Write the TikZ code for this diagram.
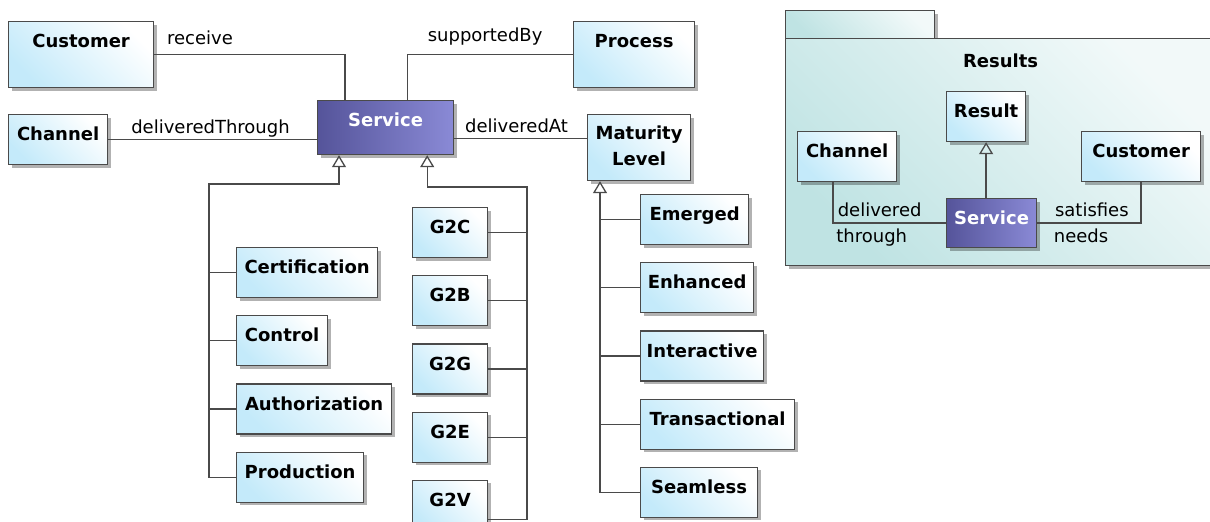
\documentclass[tikz,border=0pt]{standalone}
\usepackage{fontspec}
\setmainfont{DejaVu Sans}
\usetikzlibrary{arrows.meta, positioning, shadows}

\definecolor{clsblue}{HTML}{C4EAFA}
\definecolor{srvdark}{HTML}{55549A}
\definecolor{srvlight}{HTML}{8A8AD6}
\definecolor{pkgteal}{HTML}{BFE3E3}
\definecolor{edgegray}{HTML}{4A4A4A}

\begin{document}
\begin{tikzpicture}[
    x=1pt,
    y=-1pt,
    font=\fontsize{18}{26}\selectfont,
    cls/.style={draw=edgegray, line width=1.2pt, anchor=north west, inner sep=0pt,
        top color=clsblue, bottom color=white, shading angle=135,
        drop shadow={shadow xshift=3pt, shadow yshift=-3pt, fill=black, opacity=0.3},
        font=\fontsize{18}{26}\selectfont\bfseries,
        text height=26pt, text depth=24pt},
    srv/.style={cls, left color=srvdark, right color=srvlight, text=white},
    pkg/.style={draw=edgegray, line width=1.2pt, anchor=north west, inner sep=0pt,
        top color=pkgteal, bottom color=pkgteal!20!white, shading angle=135,
        drop shadow={shadow xshift=3pt, shadow yshift=-3pt, fill=black, opacity=0.3},
        font=\fontsize{18}{26}\selectfont\bfseries},
    lbl/.style={inner sep=0pt, text height=13pt, text depth=4pt},
    conn/.style={draw=edgegray, line width=1.3pt},
    gen/.style={conn, -{Triangle[open, length=12pt, width=14pt]}},
]

    \useasboundingbox (0,0) rectangle (1210,522);

    % package
    \node[pkg, minimum width=149pt, minimum height=28pt] (tab) at (785,10) {};
    \node[pkg, minimum width=430pt, text height=29pt, text depth=198pt] (Results) at (785,38) {Results};

    \node[cls, minimum width=79pt]                  (Result)    at (946,91)   {Result};
    \node[cls, minimum width=99pt]                  (Channel2)  at (797,131)  {Channel};
    \node[cls, minimum width=119pt]                 (Customer2) at (1081,131) {Customer};
    \node[srv, minimum width=90pt, text depth=23pt] (Service2)  at (946,198)  {Service};

    % main classes
    \node[cls, minimum width=145pt, text depth=40pt] (Customer) at (8,21)    {Customer};
    \node[cls, minimum width=99pt]                   (Channel)  at (8,114)   {Channel};
    \node[srv, minimum width=136pt, text depth=28pt] (Service)  at (317,100) {Service};
    \node[cls, minimum width=121pt, text depth=40pt] (Process)  at (573,21)  {Process};
    \node[cls, minimum width=103pt, text height=51pt, text depth=15pt, align=center] (Maturity) at (587,114) {Maturity\\Level};

    \node[cls, minimum width=141pt] (Certification) at (236,247) {Certification};
    \node[cls, minimum width=91pt,  below=17pt of Certification.south west, anchor=north west] (Control)       {Control};
    \node[cls, minimum width=155pt, below=17pt of Control.south west,       anchor=north west] (Authorization) {Authorization};
    \node[cls, minimum width=127pt, below=17pt of Authorization.south west, anchor=north west] (Production)    {Production};

    \node[cls, minimum width=75pt] (G2C) at (412,207) {G2C};
    \node[cls, minimum width=75pt, below=17pt of G2C.south west, anchor=north west] (G2B) {G2B};
    \node[cls, minimum width=75pt, below=17pt of G2B.south west, anchor=north west] (G2G) {G2G};
    \node[cls, minimum width=75pt, below=17pt of G2G.south west, anchor=north west] (G2E) {G2E};
    \node[cls, minimum width=75pt, below=17pt of G2E.south west, anchor=north west] (G2V) {G2V};

    \node[cls, minimum width=108pt] (Emerged) at (640,194) {Emerged};
    \node[cls, minimum width=113pt, below=17pt of Emerged.south west,       anchor=north west] (Enhanced)      {Enhanced};
    \node[cls, minimum width=123pt, below=17pt of Enhanced.south west,      anchor=north west] (Interactive)   {Interactive};
    \node[cls, minimum width=154pt, below=17pt of Interactive.south west,   anchor=north west] (Transactional) {Transactional};
    \node[cls, minimum width=117pt, below=17pt of Transactional.south west, anchor=north west] (Seamless)      {Seamless};

    % associations
    \draw[conn] (Customer.east) -| node[lbl, pos=0.12, above=5pt] {receive} ([xshift=28pt]Service.north west);
    \draw[conn] ([xshift=-47pt]Service.north east) |- node[lbl, pos=0.735, above=8pt] {supportedBy} (Process.west);
    \draw[conn] (Channel.east) -- node[lbl, pos=0.49, above=1pt] {deliveredThrough} (Channel.east -| Service.west);
    \draw[conn] ([yshift=-11pt]Service.east) -- node[lbl, pos=0.47, above=1pt] {deliveredAt} ([yshift=-11pt]Service.east -| Maturity.west);

    % generalizations
    \coordinate (ltrunk) at (209,184);
    \draw[gen] (Production.west) -| (ltrunk) -| ([xshift=22pt]Service.south west);
    \foreach \c in {Certification, Control, Authorization}
        \draw[conn] (\c.west) -- (\c.west -| ltrunk);

    \coordinate (gtrunk) at (527,187);
    \draw[gen] ([yshift=-14pt]G2V.east) -| (gtrunk) -| ([xshift=-27pt]Service.south east);
    \foreach \g in {G2C, G2B, G2G, G2E}
        \draw[conn] (\g.east) -- (\g.east -| gtrunk);

    \coordinate (mtrunk) at ([xshift=13pt]Maturity.south west);
    \draw[gen] (Seamless.west) -| (mtrunk);
    \foreach \m in {Emerged, Enhanced, Interactive, Transactional}
        \draw[conn] (\m.west) -- (\m.west -| mtrunk);

    % inside the package
    \draw[gen] (Service2.north -| Result.south) -- (Result.south);
    \draw[conn] ([xshift=-14pt]Channel2.south) |-
        node[lbl, pos=0.706, above=2pt] {delivered}
        node[lbl, pos=0.671, below=6pt] {through} (Service2.west);
    \draw[conn] (Customer2.south) |-
        node[lbl, pos=0.737, above=2pt] {satisfies}
        node[lbl, pos=0.789, below=6pt] {needs} (Service2.east);
\end{tikzpicture}
\end{document}
